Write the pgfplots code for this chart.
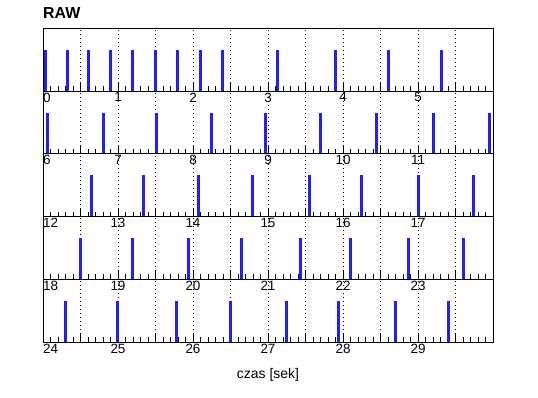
\documentclass[border=0pt]{standalone}
\usepackage{fontspec}
\setmainfont{Liberation Sans}
\usepackage{pgfplots}
\pgfplotsset{compat=1.18}
\definecolor{spike}{RGB}{32,32,240}
\pgfplotsset{panel/.style={
  scale only axis, width=450bp, height=62.75bp, anchor=south west,
  ymin=0, ymax=1.52, ytick=\empty,
  axis line style={line width=1bp},
  tick align=inside, xtick pos=left,
  major tick length=9bp, minor tick length=5bp,
  minor x tick num=4,
  every tick/.style={black, line width=0.8bp},
  xmajorgrids, major grid style={black, line width=0.8bp, dash pattern=on 0.8bp off 3.2bp},
  /pgf/number format/assume math mode=true,
  tick label style={font=\fontsize{13.5}{13.5}\selectfont},
  xticklabel style={anchor=north, inner sep=0pt, yshift=-1.5bp},
  extra x tick style={grid=none, xticklabel style={anchor=north west}},
}}
\begin{document}
\begin{tikzpicture}
\useasboundingbox (0,0) rectangle (538bp,398bp);
% panel 1
\begin{axis}[panel, at={(43bp,306.95bp)}, xmin=0, xmax=6,
  xtick={0,0.5,1,1.5,2,2.5,3,3.5,4,4.5,5,5.5,6},
  xticklabels={,,1,,2,,3,,4,,5,,},
  extra x ticks={0}, extra x tick labels={0},
  title={RAW}, title style={at={(axis description cs:0,1)}, anchor=base west, yshift=4bp, inner sep=0pt, font=\bfseries\fontsize{16}{16}\selectfont}]
\addplot[spike, line width=3bp, ycomb, mark=none] coordinates {
(0.03,1) (0.32,1) (0.60,1) (0.90,1) (1.19,1) (1.50,1) (1.79,1) (2.10,1) (2.39,1) (3.12,1) (3.90,1) (4.60,1) (5.31,1)};
\end{axis}
% panel 2
\begin{axis}[panel, at={(43bp,244.2bp)}, xmin=6, xmax=12,
  xtick={6,6.5,7,7.5,8,8.5,9,9.5,10,10.5,11,11.5,12},
  xticklabels={,,7,,8,,9,,10,,11,,},
  extra x ticks={6}, extra x tick labels={6}]
\addplot[spike, line width=3bp, ycomb, mark=none] coordinates {
(6.06,1) (6.80,1) (7.51,1) (8.24,1) (8.96,1) (9.70,1) (10.44,1) (11.20,1) (11.95,1)};
\end{axis}
% panel 3
\begin{axis}[panel, at={(43bp,181.45bp)}, xmin=12, xmax=18,
  xtick={12,12.5,13,13.5,14,14.5,15,15.5,16,16.5,17,17.5,18},
  xticklabels={,,13,,14,,15,,16,,17,,},
  extra x ticks={12}, extra x tick labels={12}]
\addplot[spike, line width=3bp, ycomb, mark=none] coordinates {
(12.64,1) (13.34,1) (14.07,1) (14.79,1) (15.55,1) (16.24,1) (17.00,1) (17.74,1)};
\end{axis}
% panel 4
\begin{axis}[panel, at={(43bp,118.7bp)}, xmin=18, xmax=24,
  xtick={18,18.5,19,19.5,20,20.5,21,21.5,22,22.5,23,23.5,24},
  xticklabels={,,19,,20,,21,,22,,23,,},
  extra x ticks={18}, extra x tick labels={18}]
\addplot[spike, line width=3bp, ycomb, mark=none] coordinates {
(18.50,1) (19.19,1) (19.94,1) (20.64,1) (21.43,1) (22.10,1) (22.87,1) (23.60,1)};
\end{axis}
% panel 5
\begin{axis}[panel, at={(43bp,55.95bp)}, xmin=24, xmax=30,
  xtick={24,24.5,25,25.5,26,26.5,27,27.5,28,28.5,29,29.5,30},
  xticklabels={,,25,,26,,27,,28,,29,,},
  extra x ticks={24}, extra x tick labels={24},
  xlabel={czas [sek]},
  xlabel style={at={(axis description cs:0.5,0)}, anchor=base, yshift=-36.3bp, inner sep=0pt, font=\fontsize{14}{14}\selectfont}]
\addplot[spike, line width=3bp, ycomb, mark=none] coordinates {
(24.30,1) (24.99,1) (25.78,1) (26.50,1) (27.24,1) (27.94,1) (28.70,1) (29.40,1)};
\end{axis}
\end{tikzpicture}
\end{document}
